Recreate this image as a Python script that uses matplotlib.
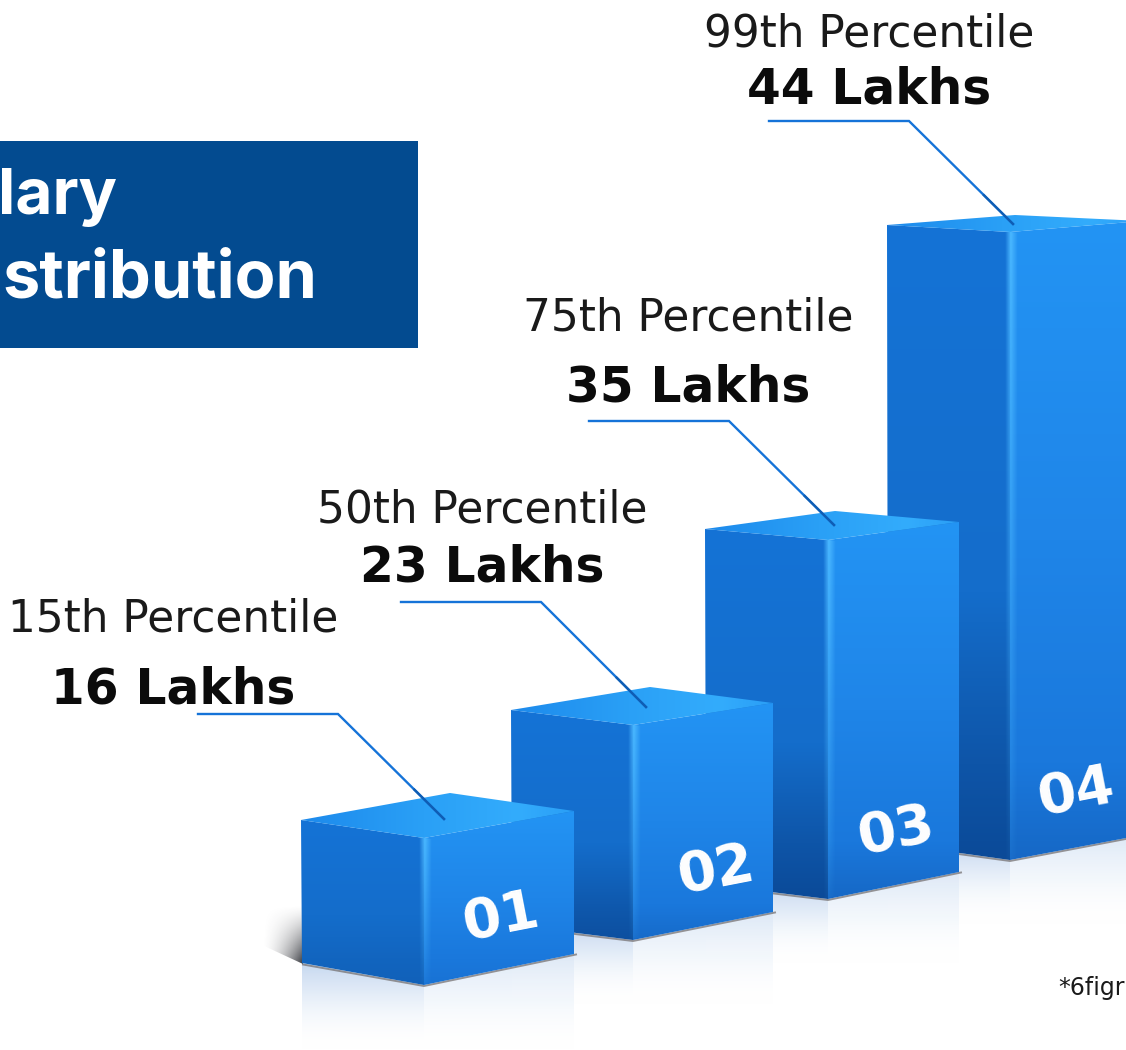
import numpy as np
import matplotlib
matplotlib.use("Agg")
import matplotlib.pyplot as plt
from matplotlib.colors import to_rgb
from matplotlib.patches import Polygon, Rectangle

# ---- chart data ----
percentile_labels = ["15th Percentile", "50th Percentile", "75th Percentile", "99th Percentile"]
salary_labels = ["16 Lakhs", "23 Lakhs", "35 Lakhs", "44 Lakhs"]
bar_tags = ["01", "02", "03", "04"]
bar_heights = [147, 215, 359, 628]          # drawn front-edge height

# ---- layout (pixel space of the picture) ----
W, H = 1126, 1050
front_x = [424, 633, 828, 1010]
front_bottom = [985, 940, 899, 860]
left_x = [301, 511, 705, 887]
right_x = [574, 773, 959, 1142]
back_x = [450, 650, 835, 1015]
left_top_rise = [18, 15, 11, 7]
back_rise = [45, 38, 29, 17]
right_top_rise = [27, 22, 18, 11]
left_bottom_rise = [22, 15, 15, 17]
right_bottom_rise = [31, 28, 27, 25]
bottom_dark = [0.35, 0.85, 1.0, 1.0]

label_x = [173, 482, 688, 869]
percentile_y = [619, 510, 318, 34]
salary_y = [690, 567, 387, 89]
leader_start = [198, 401, 589, 769]
leader_y = [714, 602, 421, 121]
leader_end = [(444, 819), (646, 707), (834, 525), (1013, 224)]
leader_knee = 140
tag_pos = [(501, 918), (716, 871), (896, 832), (1076, 793)]

FONT = "DejaVu Sans"
BLUE_LINE = "#1573d8"

fig = plt.figure(figsize=(W / 100, H / 100), dpi=100, facecolor="white")
ax = fig.add_axes([0, 0, 1, 1])
ax.set_axis_off()


def ramp(stops, n=256):
    pos = np.array([s[0] for s in stops])
    cols = np.array([to_rgb(s[1]) + ((s[2],) if len(s) > 2 else (1.0,)) for s in stops])
    t = np.linspace(0, 1, n)
    return np.stack([np.interp(t, pos, cols[:, i]) for i in range(4)], axis=-1)


def show(poly, arr, z):
    pts = np.array(poly, dtype=float)
    x0, x1, y0, y1 = pts[:, 0].min(), pts[:, 0].max(), pts[:, 1].min(), pts[:, 1].max()
    im = ax.imshow(arr, extent=(x0, x1, y1, y0), origin="upper", aspect="auto",
                   interpolation="bilinear", zorder=z)
    im.set_clip_path(Polygon(pts, closed=True, transform=ax.transData))
    return im


def fill(poly, stops, horizontal=False, z=2):
    arr = ramp(stops)
    arr = arr[None, :, :] if horizontal else arr[:, None, :]
    return show(poly, arr, z)


def mix(a, b, t):
    ca, cb = np.array(to_rgb(a)), np.array(to_rgb(b))
    return tuple(ca + (cb - ca) * t)


# reflections on the floor
for i in range(4):
    fx, fb = front_x[i], front_bottom[i]
    lx = left_x[i]
    lb = fb - left_bottom_rise[i]
    rb = fb - right_bottom_rise[i]
    depth = 72
    fill([(lx + 1, lb), (fx, fb), (fx, fb + depth - 8), (lx + 1, fb + depth - 8)],
         [(0, "#c0d4ee", 0.9), (0.4, "#dfeaf7", 0.75), (1, "#ffffff", 0.0)], z=1)
    fill([(fx, fb), (right_x[i], rb), (right_x[i], fb + depth - 8), (fx, fb + depth - 8)],
         [(0, "#d8e5f5", 0.85), (0.5, "#ecf3fb", 0.6), (1, "#ffffff", 0.0)], z=1)

# soft shadow left of the first bar
sx = np.linspace(0, 1, 64) ** 1.6
sy = np.linspace(0, 1, 64) ** 1.3
shadow = np.zeros((64, 64, 4))
shadow[..., :3] = to_rgb("#2e3036")
shadow[..., 3] = np.outer(sy, sx) * 0.95
show([(262, 905), (left_x[0] + 2, 905), (left_x[0] + 2, 964), (262, 945)], shadow, 1.5)

# bars, back to front
for i in [3, 2, 1, 0]:
    z = 3 + (3 - i) * 0.5
    fx, fb = front_x[i], front_bottom[i]
    ft = fb - bar_heights[i]
    lx, rx, bx = left_x[i], right_x[i], back_x[i]
    lt = ft - left_top_rise[i]
    rt = ft - right_top_rise[i]
    bt = ft - back_rise[i]
    lb = fb - left_bottom_rise[i]
    rb = fb - right_bottom_rise[i]
    d = bottom_dark[i]

    # contact line on the floor
    ax.plot([lx + 2, fx, rx + 2], [lb + 1.5, fb + 1, rb + 0.5], color="#6f6a6a", lw=1.4,
            alpha=0.7, zorder=z - 0.05, solid_joinstyle="miter")

    left_face = [(lx, lt), (fx, ft), (fx, fb), (lx + 1, lb)]
    right_face = [(fx, ft), (rx, rt), (rx, rb), (fx, fb)]
    top_face = [(lx, lt), (bx, bt), (rx, rt), (fx, ft)]

    fill(left_face, [(0, "#1573d6"), (0.58, "#146dcb"),
                     (0.85, mix("#146dcb", "#0e55a8", d)),
                     (1, mix("#146dcb", "#0b4a98", d))], z=z)
    fill(right_face, [(0, "#2394f4"), (0.5, "#1f85e8"), (0.85, "#1a78dc"),
                      (1, mix("#1a78dc", "#1668c6", d))], z=z)
    fill(top_face, [(0, "#1d8aec"), (0.45, "#2aa0f6"), (0.8, "#33acfc"), (1, "#2a9ef6")],
         horizontal=True, z=z + 0.01)

    # highlight along the front edge: narrow band that fades towards the base
    prof = ramp([(0, "#4fb8ff", 0.0), (0.45, "#4ab8ff", 1.0), (1, "#4fb8ff", 0.0)], n=32)
    fade = np.interp(np.linspace(0, 1, 128), [0, 0.45, 1], [1.0, 0.55, 0.08])
    glow = np.repeat(prof[None, :, :], 128, axis=0)
    glow[..., 3] *= fade[:, None]
    show([(fx - 5, ft - 1), (fx + 8, ft + 1), (fx + 8, fb - 2), (fx - 5, fb - 1)], glow, z + 0.02)

    ax.text(tag_pos[i][0], tag_pos[i][1], bar_tags[i], color="white", fontsize=40, fontweight="bold",
            family="DejaVu Sans", rotation=11, rotation_mode="anchor", ha="center", va="center",
            zorder=z + 0.2)

# title box
ax.add_patch(Rectangle((0, 141), 418, 207, facecolor="#034b90", edgecolor="none", zorder=2))
ax.text(117, 214, "lary", color="white", fontsize=46, fontweight="bold", family="Inter",
        ha="right", va="baseline", zorder=5)
ax.text(317, 297, "stribution", color="white", fontsize=48, fontweight="bold", family="Inter",
        ha="right", va="baseline", zorder=5)

# labels and leader lines
for i in range(4):
    ax.text(label_x[i], percentile_y[i], percentile_labels[i], color="#1a1a1a", fontsize=31.5,
            family=FONT, ha="center", va="center", zorder=6)
    ax.text(label_x[i], salary_y[i], salary_labels[i], color="#0b0b0b", fontsize=35,
            fontweight="bold", family=FONT, ha="center", va="center", zorder=6)
    ax.plot([leader_start[i], leader_start[i] + leader_knee, leader_end[i][0]],
            [leader_y[i], leader_y[i], leader_end[i][1]],
            color=BLUE_LINE, lw=1.7, zorder=6, solid_joinstyle="miter")
    ax.plot([leader_start[i] + leader_knee + (leader_end[i][0] - leader_start[i] - leader_knee) * 0.72, leader_end[i][0]],
            [leader_y[i] + (leader_end[i][1] - leader_y[i]) * 0.72, leader_end[i][1]],
            color="#0f5db4", lw=1.7, zorder=6.1)

ax.text(1058, 988, "*6figr", color="#1a1a1a", fontsize=17, family=FONT, ha="left", va="center", zorder=6)

ax.set_xlim(0, W)
ax.set_ylim(H, 0)
fig.savefig("out.png", dpi=100, facecolor="white")
